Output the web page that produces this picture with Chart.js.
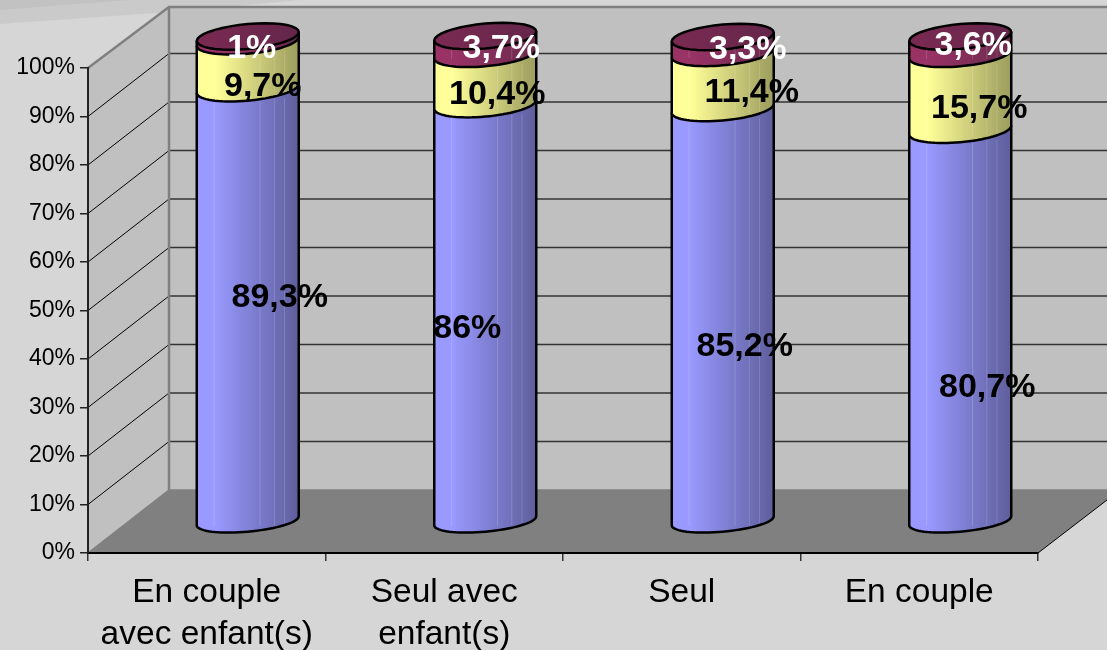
<!DOCTYPE html>
<html><head><meta charset="utf-8">
<style>html,body{margin:0;padding:0;background:#D6D6D6}canvas{display:block}</style>
<script src="https://cdn.jsdelivr.net/npm/chart.js@4"></script></head>
<body><canvas id="c" width="1107" height="650"></canvas>
<script>
const categories=[['En couple','avec enfant(s)'],['Seul avec','enfant(s)'],['Seul'],['En couple']];
const seriesA=[89.3,86,85.2,80.7];
const seriesB=[9.7,10.4,11.4,15.7];
const seriesC=[1,3.7,3.3,3.6];
const seriesColors=['#9999FF','#FFFF99','#993366'];
const shadeColors=['#5E5E9C','#9C9C5E','#6A2A4C'];
const labelColors=['#000','#000','#fff'];
// label nudges relative to each segment centre (px)
const labelDX=[[32,-18,22,27],[15,12,29,19],[4,16,25,13]];
const labelDY=[[-7,16,32,62],[22,15,12,17],[10,3.5,4.5,0]];
const DEPTH_X=81,DEPTH_Y=63,BAR_DX=41,BAR_DY=31.5,RX=51,RY_LOW=11,RY_HIGH=12.5,SHEAR=4.5,RIGHT=1107,TOP=7;

function arc(ctx,cx,cy,from,to){
  const n=36,ry=RY_LOW+(RY_HIGH-RY_LOW)*(522-cy)/486;
  for(let i=0;i<=n;i++){
    const t=from+(to-from)*i/n;
    ctx.lineTo(cx+RX*Math.cos(t),cy+ry*Math.sin(t)-SHEAR*Math.cos(t));
  }
}
function grad(ctx,cx,i){
  const g=ctx.createLinearGradient(cx-RX,0,cx+RX,0);
  g.addColorStop(0,seriesColors[i]);
  g.addColorStop(0.18,seriesColors[i]);
  g.addColorStop(1,shadeColors[i]);
  return g;
}
const cyl={
  id:'cyl',
  beforeDraw(chart){
    const {ctx,chartArea:a,scales:{y}}=chart;
    ctx.save();
    ctx.fillStyle='#D6D6D6';ctx.fillRect(0,0,chart.width,chart.height);
    ctx.fillStyle='#CACACA';
    ctx.beginPath();ctx.moveTo(0,0);ctx.lineTo(300,0);ctx.lineTo(170,12);ctx.lineTo(0,24);ctx.fill();
    ctx.fillStyle='#C2C2C2';
    ctx.beginPath();ctx.moveTo(0,0);ctx.lineTo(130,0);ctx.lineTo(0,10);ctx.fill();
    const L=a.left,B=a.bottom,bx=L+DEPTH_X,by=B-DEPTH_Y;
    ctx.fillStyle='#C0C0C0';
    ctx.fillRect(bx,TOP,RIGHT-bx,by-TOP);
    ctx.beginPath();ctx.moveTo(L,a.top);ctx.lineTo(bx,TOP);ctx.lineTo(bx,by);ctx.lineTo(L,B);ctx.fill();
    ctx.fillStyle='#808080';
    ctx.beginPath();ctx.moveTo(L,B);ctx.lineTo(a.right,B);ctx.lineTo(RIGHT,B-53);ctx.lineTo(RIGHT,by);ctx.lineTo(bx,by);ctx.fill();
    y.ticks.forEach(t=>{
      if(t.value===0||t.value===100)return;
      const p=y.getPixelForValue(t.value);
      ctx.strokeStyle='#000';ctx.lineWidth=1;
      ctx.beginPath();ctx.moveTo(L,p);ctx.lineTo(bx,p-DEPTH_Y);ctx.stroke();
      ctx.strokeStyle='#333';ctx.lineWidth=1.5;
      ctx.beginPath();ctx.moveTo(bx,p-DEPTH_Y);ctx.lineTo(RIGHT,p-DEPTH_Y);ctx.stroke();
    });
    ctx.strokeStyle='#808080';ctx.lineWidth=2.5;
    ctx.beginPath();ctx.moveTo(L,a.top);ctx.lineTo(bx,TOP);ctx.lineTo(RIGHT,TOP);ctx.stroke();
    ctx.beginPath();ctx.moveTo(bx,TOP);ctx.lineTo(bx,by);ctx.stroke();
    ctx.lineWidth=1.5;
    ctx.beginPath();ctx.moveTo(L,B);ctx.lineTo(bx,by);ctx.lineTo(RIGHT,by);ctx.stroke();
    ctx.strokeStyle='#000';ctx.lineWidth=1;
    ctx.beginPath();ctx.moveTo(a.right,B);ctx.lineTo(RIGHT,B-53);ctx.stroke();
    ctx.restore();
  },
  beforeDatasetDraw(){return false;},
  afterDatasetsDraw(chart){
    const ctx=chart.ctx,metas=chart.data.datasets.map((d,i)=>chart.getDatasetMeta(i));
    ctx.save();
    ctx.translate(BAR_DX,-BAR_DY);
    metas.forEach((m,i)=>m.data.forEach(el=>{
      const cx=el.x,top=el.y,base=el.base;
      ctx.beginPath();
      ctx.moveTo(cx-RX,top+SHEAR);
      ctx.lineTo(cx-RX,base+SHEAR);
      arc(ctx,cx,base,Math.PI,0);
      ctx.lineTo(cx+RX,top-SHEAR);
      arc(ctx,cx,top,0,-Math.PI);
      ctx.closePath();
      ctx.fillStyle=grad(ctx,cx,i);ctx.fill();
      ctx.strokeStyle='rgba(255,255,255,.16)';ctx.lineWidth=1;
      [.17,.62,.76,.86].forEach(f=>{
        const x=cx-RX+2*RX*f;
        ctx.beginPath();ctx.moveTo(x,top+10);ctx.lineTo(x,base+5);ctx.stroke();
      });
      ctx.beginPath();
      ctx.moveTo(cx-RX,top+SHEAR);
      ctx.lineTo(cx-RX,base+SHEAR);
      arc(ctx,cx,base,Math.PI,0);
      ctx.lineTo(cx+RX,top-SHEAR);
      ctx.strokeStyle='#000';ctx.lineWidth=2.5;ctx.stroke();
    }));
    // top cap
    metas[metas.length-1].data.forEach(el=>{
      const cx=el.x,top=el.y;
      ctx.beginPath();
      arc(ctx,cx,top,0,2*Math.PI);
      ctx.closePath();
      const g=ctx.createLinearGradient(cx-RX,0,cx+RX,0);
      g.addColorStop(0,'#7B2A52');g.addColorStop(1,'#64264A');
      ctx.fillStyle=g;ctx.fill();
      ctx.strokeStyle='#000';ctx.lineWidth=2.5;ctx.stroke();
    });
    ctx.font='bold 34px "Liberation Sans",Arial,sans-serif';
    ctx.textAlign='center';ctx.textBaseline='middle';
    metas.forEach((m,i)=>m.data.forEach((el,j)=>{
      const v=chart.data.datasets[i].data[j];
      ctx.fillStyle=labelColors[i];
      ctx.fillText(String(v).replace('.',',')+'%',el.x+labelDX[i][j],(el.y+el.base)/2+labelDY[i][j]);
    }));
    ctx.restore();
  }
};
new Chart(document.getElementById('c'),{
  type:'bar',
  data:{labels:categories,datasets:[
    {label:'A',data:seriesA,backgroundColor:seriesColors[0]},
    {label:'B',data:seriesB,backgroundColor:seriesColors[1]},
    {label:'C',data:seriesC,backgroundColor:seriesColors[2]}
  ]},
  plugins:[cyl],
  options:{
    responsive:false,animation:false,
    layout:{padding:{top:68,right:69,left:0,bottom:0}},
    plugins:{legend:{display:false},tooltip:{enabled:false},title:{display:false}},
    scales:{
      x:{stacked:true,
        grid:{drawOnChartArea:false,drawTicks:true,tickLength:8,color:'#333',lineWidth:1.5},
        border:{color:'#000',width:2},
        ticks:{color:'#000',padding:11,autoSkip:false,maxRotation:0,minRotation:0,
          font:{family:'"Liberation Sans",Arial,sans-serif',size:33.5,lineHeight:1.25}},
        afterFit(s){s.height=97;}
      },
      y:{stacked:true,min:0,max:100,
        grid:{drawOnChartArea:false,drawTicks:true,tickLength:8,color:'#222',lineWidth:1.5},
        border:{color:'#222',width:2},
        ticks:{stepSize:10,color:'#000',padding:5,callback:v=>v+'%',
          font:{family:'"Liberation Sans",Arial,sans-serif',size:23}},
        afterFit(s){s.width=88;}
      }
    }
  }
});
</script></body></html>
